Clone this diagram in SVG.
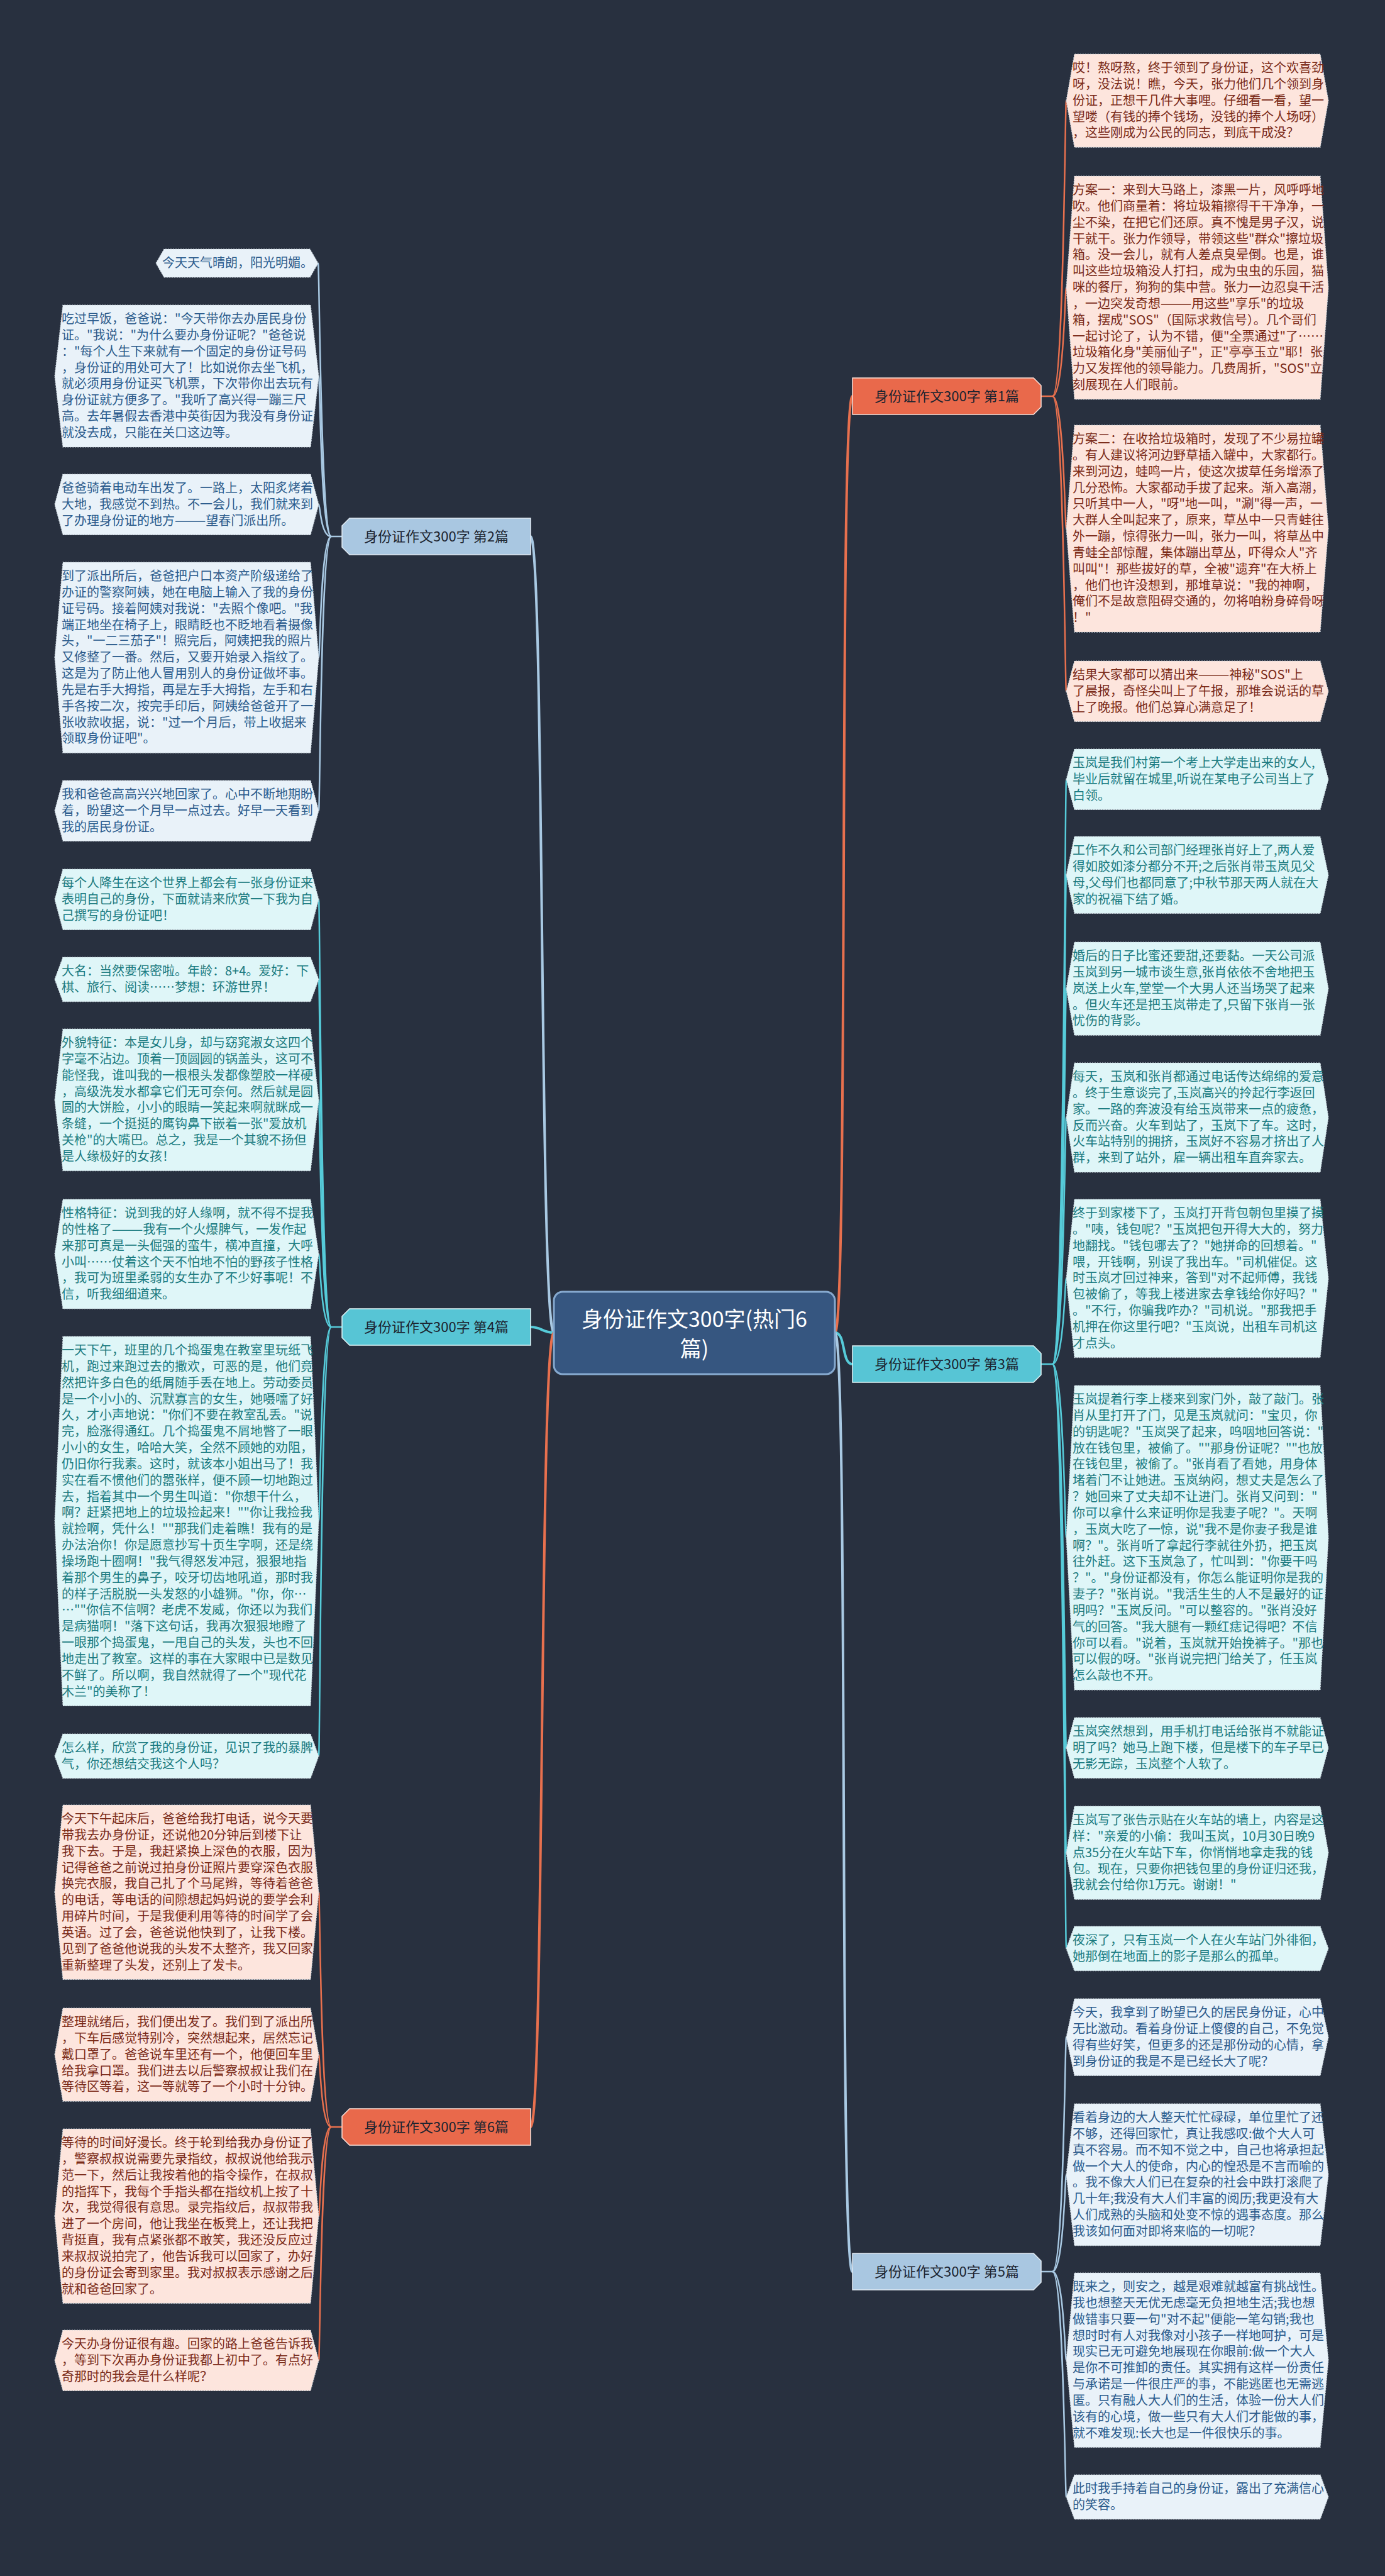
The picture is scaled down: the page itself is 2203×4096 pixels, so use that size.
<svg xmlns="http://www.w3.org/2000/svg" width="2203" height="4096" viewBox="0 0 2203 4096">
<style>
text{font-family:"Noto Sans CJK SC","Microsoft YaHei",sans-serif;}
.lf{font-size:20px;}
.tb{fill:#2b5b8c;}
.tt{fill:#1b7b80;}
.tp{fill:#7a2a18;}
.pb{fill:#e9f2f9;stroke:#c9d3dc;stroke-width:1.2;stroke-dasharray:2 2;}
.pt{fill:#dff6f8;stroke:#c9d3dc;stroke-width:1.2;stroke-dasharray:2 2;}
.pp{fill:#fde5dd;stroke:#c9d3dc;stroke-width:1.2;stroke-dasharray:2 2;}
.br{font-size:22px;fill:#1c2430;text-anchor:middle;}
.cb{fill:none;stroke:#a9c9e3;}
.ct{fill:none;stroke:#56cbd9;}
.cp{fill:none;stroke:#e8704e;}
.m{stroke-width:4;}
.s{stroke-width:2.5;}
</style>
<rect width="2203" height="4096" fill="#28303f"/>
<g id="connectors">
<path class="cb m" d="M881,2119 C858,2119 866,853 844,853"/>
<path class="ct m" d="M881,2119 C862,2119 862,2110 844,2110"/>
<path class="cp m" d="M881,2119 C858,2119 866,3382 844,3382"/>
<path class="cp m" d="M1328,2119 C1350,2119 1334,630 1356,630"/>
<path class="ct m" d="M1328,2119 C1346,2119 1338,2169 1356,2169"/>
<path class="cb m" d="M1328,2119 C1350,2119 1334,3612 1356,3612"/>
<path class="cb s" d="M544,853 H527"/>
<path class="cb s" d="M527,853 C510,853 508,418.5 506,418.5"/>
<path class="cb s" d="M527,853 C510,853 509,598 507,598"/>
<path class="cb s" d="M527,853 C510,853 509,802 507,802"/>
<path class="cb s" d="M527,853 C510,853 509,1045.6 507,1045.6"/>
<path class="cb s" d="M527,853 C510,853 509,1289 507,1289"/>
<path class="ct s" d="M544,2110 H527"/>
<path class="ct s" d="M527,2110 C510,2110 509,1430 507,1430"/>
<path class="ct s" d="M527,2110 C510,2110 509,1557.3 507,1557.3"/>
<path class="ct s" d="M527,2110 C510,2110 509,1748.9 507,1748.9"/>
<path class="ct s" d="M527,2110 C510,2110 509,1994 507,1994"/>
<path class="ct s" d="M527,2110 C510,2110 509,2418.7 507,2418.7"/>
<path class="ct s" d="M527,2110 C510,2110 509,2792.3 507,2792.3"/>
<path class="cp s" d="M544,3382 H527"/>
<path class="cp s" d="M527,3382 C510,3382 509,3008.7 507,3008.7"/>
<path class="cp s" d="M527,3382 C510,3382 509,3267.1 507,3267.1"/>
<path class="cp s" d="M527,3382 C510,3382 509,3523.7 507,3523.7"/>
<path class="cp s" d="M527,3382 C510,3382 509,3753.3 507,3753.3"/>
<path class="cp s" d="M1656,630 H1674"/>
<path class="cp s" d="M1674,630 C1692,630 1694,160.1 1696,160.1"/>
<path class="cp s" d="M1674,630 C1692,630 1694,457.5 1696,457.5"/>
<path class="cp s" d="M1674,630 C1692,630 1694,840.5 1696,840.5"/>
<path class="cp s" d="M1674,630 C1692,630 1694,1099.3 1696,1099.3"/>
<path class="ct s" d="M1656,2169 H1674"/>
<path class="ct s" d="M1674,2169 C1692,2169 1694,1239.3 1696,1239.3"/>
<path class="ct s" d="M1674,2169 C1692,2169 1694,1391.2 1696,1391.2"/>
<path class="ct s" d="M1674,2169 C1692,2169 1694,1572.1 1696,1572.1"/>
<path class="ct s" d="M1674,2169 C1692,2169 1694,1777 1696,1777"/>
<path class="ct s" d="M1674,2169 C1692,2169 1694,2032.8 1696,2032.8"/>
<path class="ct s" d="M1674,2169 C1692,2169 1694,2445.1 1696,2445.1"/>
<path class="ct s" d="M1674,2169 C1692,2169 1694,2779.3 1696,2779.3"/>
<path class="ct s" d="M1674,2169 C1692,2169 1694,2946.1 1696,2946.1"/>
<path class="ct s" d="M1674,2169 C1692,2169 1694,3098.3 1696,3098.3"/>
<path class="cb s" d="M1656,3612 H1674"/>
<path class="cb s" d="M1674,3612 C1692,3612 1694,3239.2 1696,3239.2"/>
<path class="cb s" d="M1674,3612 C1692,3612 1694,3457.9 1696,3457.9"/>
<path class="cb s" d="M1674,3612 C1692,3612 1694,3752.7 1696,3752.7"/>
<path class="cb s" d="M1674,3612 C1692,3612 1694,3970.3 1696,3970.3"/>
</g>
<g id="center">
<rect x="881" y="2054" width="447" height="131" rx="14" fill="#365680" stroke="#86a9cf" stroke-width="3"/>
<text x="1104.5" y="2110" font-size="34" fill="#ffffff" text-anchor="middle">身份证作文300字(热门6</text>
<text x="1104.5" y="2157" font-size="34" fill="#ffffff" text-anchor="middle">篇)</text>
</g>
<g id="b2"><polygon points="544,836 556,824 844,824 844,882 556,882 544,870" fill="#a9c7e1" stroke="#dfe9f2" stroke-width="1.5"/><text class="br" x="694" y="861">身份证作文300字 第2篇</text></g>
<g id="b4"><polygon points="544,2093 556,2081 844,2081 844,2139 556,2139 544,2127" fill="#57c5d5" stroke="#dff5f8" stroke-width="1.5"/><text class="br" x="694" y="2118">身份证作文300字 第4篇</text></g>
<g id="b6"><polygon points="544,3365 556,3353 844,3353 844,3411 556,3411 544,3399" fill="#e9694b" stroke="#fbe0d8" stroke-width="1.5"/><text class="br" x="694" y="3390">身份证作文300字 第6篇</text></g>
<g id="b1"><polygon points="1356,601 1644,601 1656,613 1656,647 1644,659 1356,659" fill="#e9694b" stroke="#fbe0d8" stroke-width="1.5"/><text class="br" x="1506" y="638">身份证作文300字 第1篇</text></g>
<g id="b3"><polygon points="1356,2140 1644,2140 1656,2152 1656,2186 1644,2198 1356,2198" fill="#57c5d5" stroke="#dff5f8" stroke-width="1.5"/><text class="br" x="1506" y="2177">身份证作文300字 第3篇</text></g>
<g id="b5"><polygon points="1356,3583 1644,3583 1656,3595 1656,3629 1644,3641 1356,3641" fill="#a9c7e1" stroke="#dfe9f2" stroke-width="1.5"/><text class="br" x="1506" y="3620">身份证作文300字 第5篇</text></g>

<g id="l2a"><polygon class="pb" points="248,418.5 261,396 493,396 506,418.5 493,441 261,441"/>
<text class="lf tb" x="258" y="425">今天天气晴朗，阳光明媚。</text></g>
<g id="l2b"><polygon class="pb" points="87,598 100,485 494,485 507,598 494,711 100,711"/>
<text class="lf tb" y="514"><tspan x="98">吃过早饭，爸爸说："今天带你去办居民身份</tspan><tspan x="98" dy="25.84">证。"我说："为什么要办身份证呢？"爸爸说</tspan><tspan x="98" dy="25.84">："每个人生下来就有一个固定的身份证号码</tspan><tspan x="98" dy="25.84">，身份证的用处可大了！比如说你去坐飞机，</tspan><tspan x="98" dy="25.84">就必须用身份证买飞机票，下次带你出去玩有</tspan><tspan x="98" dy="25.84">身份证就方便多了。"我听了高兴得一蹦三尺</tspan><tspan x="98" dy="25.84">高。去年暑假去香港中英街因为我没有身份证</tspan><tspan x="98" dy="25.84">就没去成，只能在关口这边等。</tspan></text></g>
<g id="l2c"><polygon class="pb" points="87,802 100,754 494,754 507,802 494,850.5 100,850.5"/>
<text class="lf tb" y="783"><tspan x="98">爸爸骑着电动车出发了。一路上，太阳炙烤着</tspan><tspan x="98" dy="25.84">大地，我感觉不到热。不一会儿，我们就来到</tspan><tspan x="98" dy="25.84">了办理身份证的地方———望春门派出所。</tspan></text></g>
<g id="l2d"><polygon class="pb" points="87,1045.6 100,894 494,894 507,1045.6 494,1197.2 100,1197.2"/>
<text class="lf tb" y="923"><tspan x="98">到了派出所后，爸爸把户口本资产阶级递给了</tspan><tspan x="98" dy="25.84">办证的警察阿姨，她在电脑上输入了我的身份</tspan><tspan x="98" dy="25.84">证号码。接着阿姨对我说："去照个像吧。"我</tspan><tspan x="98" dy="25.84">端正地坐在椅子上，眼睛眨也不眨地看着摄像</tspan><tspan x="98" dy="25.84">头，"一二三茄子"！照完后，阿姨把我的照片</tspan><tspan x="98" dy="25.84">又修整了一番。然后，又要开始录入指纹了。</tspan><tspan x="98" dy="25.84">这是为了防止他人冒用别人的身份证做坏事。</tspan><tspan x="98" dy="25.84">先是右手大拇指，再是左手大拇指，左手和右</tspan><tspan x="98" dy="25.84">手各按二次，按完手印后，阿姨给爸爸开了一</tspan><tspan x="98" dy="25.84">张收款收据，说："过一个月后，带上收据来</tspan><tspan x="98" dy="25.84">领取身份证吧"。</tspan></text></g>
<g id="l2e"><polygon class="pb" points="87,1289 100,1241 494,1241 507,1289 494,1337.5 100,1337.5"/>
<text class="lf tb" y="1270"><tspan x="98">我和爸爸高高兴兴地回家了。心中不断地期盼</tspan><tspan x="98" dy="25.84">着，盼望这一个月早一点过去。好早一天看到</tspan><tspan x="98" dy="25.84">我的居民身份证。</tspan></text></g>

<g id="l4a"><polygon class="pt" points="87,1430 100,1382 494,1382 507,1430 494,1478.5 100,1478.5"/>
<text class="lf tt" y="1411"><tspan x="98">每个人降生在这个世界上都会有一张身份证来</tspan><tspan x="98" dy="25.84">表明自己的身份，下面就请来欣赏一下我为自</tspan><tspan x="98" dy="25.84">己撰写的身份证吧！</tspan></text></g>
<g id="l4b"><polygon class="pt" points="87,1557.3 100,1522 494,1522 507,1557.3 494,1592.7 100,1592.7"/>
<text class="lf tt" y="1551"><tspan x="98">大名：当然要保密啦。年龄：8+4。爱好：下</tspan><tspan x="98" dy="25.84">棋、旅行、阅读……梦想：环游世界！</tspan></text></g>
<g id="l4c"><polygon class="pt" points="87,1748.9 100,1636 494,1636 507,1748.9 494,1861.7 100,1861.7"/>
<text class="lf tt" y="1665"><tspan x="98">外貌特征：本是女儿身，却与窈窕淑女这四个</tspan><tspan x="98" dy="25.84">字毫不沾边。顶着一顶圆圆的锅盖头，这可不</tspan><tspan x="98" dy="25.84">能怪我，谁叫我的一根根头发都像塑胶一样硬</tspan><tspan x="98" dy="25.84">，高级洗发水都拿它们无可奈何。然后就是圆</tspan><tspan x="98" dy="25.84">圆的大饼脸，小小的眼睛一笑起来啊就眯成一</tspan><tspan x="98" dy="25.84">条缝，一个挺挺的鹰钩鼻下嵌着一张"爱放机</tspan><tspan x="98" dy="25.84">关枪"的大嘴巴。总之，我是一个其貌不扬但</tspan><tspan x="98" dy="25.84">是人缘极好的女孩！</tspan></text></g>
<g id="l4d"><polygon class="pt" points="87,1994 100,1907 494,1907 507,1994 494,2081 100,2081"/>
<text class="lf tt" y="1936"><tspan x="98">性格特征：说到我的好人缘啊，就不得不提我</tspan><tspan x="98" dy="25.84">的性格了———我有一个火爆脾气，一发作起</tspan><tspan x="98" dy="25.84">来那可真是一头倔强的蛮牛，横冲直撞，大呼</tspan><tspan x="98" dy="25.84">小叫……仗着这个天不怕地不怕的野孩子性格</tspan><tspan x="98" dy="25.84">，我可为班里柔弱的女生办了不少好事呢！不</tspan><tspan x="98" dy="25.84">信，听我细细道来。</tspan></text></g>
<g id="l4e"><polygon class="pt" points="87,2418.7 100,2125 494,2125 507,2418.7 494,2712.5 100,2712.5"/>
<text class="lf tt" y="2154"><tspan x="98">一天下午，班里的几个捣蛋鬼在教室里玩纸飞</tspan><tspan x="98" dy="25.84">机，跑过来跑过去的撒欢，可恶的是，他们竟</tspan><tspan x="98" dy="25.84">然把许多白色的纸屑随手丢在地上。劳动委员</tspan><tspan x="98" dy="25.84">是一个小小的、沉默寡言的女生，她嗫嚅了好</tspan><tspan x="98" dy="25.84">久，才小声地说："你们不要在教室乱丢。"说</tspan><tspan x="98" dy="25.84">完，脸涨得通红。几个捣蛋鬼不屑地瞥了一眼</tspan><tspan x="98" dy="25.84">小小的女生，哈哈大笑，全然不顾她的劝阻，</tspan><tspan x="98" dy="25.84">仍旧你行我素。这时，就该本小姐出马了！我</tspan><tspan x="98" dy="25.84">实在看不惯他们的嚣张样，便不顾一切地跑过</tspan><tspan x="98" dy="25.84">去，指着其中一个男生叫道："你想干什么，</tspan><tspan x="98" dy="25.84">啊？赶紧把地上的垃圾捡起来！""你让我捡我</tspan><tspan x="98" dy="25.84">就捡啊，凭什么！""那我们走着瞧！我有的是</tspan><tspan x="98" dy="25.84">办法治你！你是愿意抄写十页生字啊，还是绕</tspan><tspan x="98" dy="25.84">操场跑十圈啊！"我气得怒发冲冠，狠狠地指</tspan><tspan x="98" dy="25.84">着那个男生的鼻子，咬牙切齿地吼道，那时我</tspan><tspan x="98" dy="25.84">的样子活脱脱一头发怒的小雄狮。"你，你…</tspan><tspan x="98" dy="25.84">…""你信不信啊？老虎不发威，你还以为我们</tspan><tspan x="98" dy="25.84">是病猫啊！"落下这句话，我再次狠狠地瞪了</tspan><tspan x="98" dy="25.84">一眼那个捣蛋鬼，一甩自己的头发，头也不回</tspan><tspan x="98" dy="25.84">地走出了教室。这样的事在大家眼中已是数见</tspan><tspan x="98" dy="25.84">不鲜了。所以啊，我自然就得了一个"现代花</tspan><tspan x="98" dy="25.84">木兰"的美称了！</tspan></text></g>
<g id="l4f"><polygon class="pt" points="87,2792.3 100,2757 494,2757 507,2792.3 494,2827.7 100,2827.7"/>
<text class="lf tt" y="2786"><tspan x="98">怎么样，欣赏了我的身份证，见识了我的暴脾</tspan><tspan x="98" dy="25.84">气，你还想结交我这个人吗？</tspan></text></g>

<g id="l6a"><polygon class="pp" points="87,3008.7 100,2870 494,2870 507,3008.7 494,3147.4 100,3147.4"/>
<text class="lf tp" y="2899"><tspan x="98">今天下午起床后，爸爸给我打电话，说今天要</tspan><tspan x="98" dy="25.84">带我去办身份证，还说他20分钟后到楼下让</tspan><tspan x="98" dy="25.84">我下去。于是，我赶紧换上深色的衣服，因为</tspan><tspan x="98" dy="25.84">记得爸爸之前说过拍身份证照片要穿深色衣服</tspan><tspan x="98" dy="25.84">换完衣服，我自己扎了个马尾辫，等待着爸爸</tspan><tspan x="98" dy="25.84">的电话，等电话的间隙想起妈妈说的要学会利</tspan><tspan x="98" dy="25.84">用碎片时间，于是我便利用等待的时间学了会</tspan><tspan x="98" dy="25.84">英语。过了会，爸爸说他快到了，让我下楼。</tspan><tspan x="98" dy="25.84">见到了爸爸他说我的头发不太整齐，我又回家</tspan><tspan x="98" dy="25.84">重新整理了头发，还别上了发卡。</tspan></text></g>
<g id="l6b"><polygon class="pp" points="87,3267.1 100,3193 494,3193 507,3267.1 494,3341.2 100,3341.2"/>
<text class="lf tp" y="3222"><tspan x="98">整理就绪后，我们便出发了。我们到了派出所</tspan><tspan x="98" dy="25.84">，下车后感觉特别冷，突然想起来，居然忘记</tspan><tspan x="98" dy="25.84">戴口罩了。爸爸说车里还有一个，他便回车里</tspan><tspan x="98" dy="25.84">给我拿口罩。我们进去以后警察叔叔让我们在</tspan><tspan x="98" dy="25.84">等待区等着，这一等就等了一个小时十分钟。</tspan></text></g>
<g id="l6c"><polygon class="pp" points="87,3523.7 100,3385 494,3385 507,3523.7 494,3662.4 100,3662.4"/>
<text class="lf tp" y="3414"><tspan x="98">等待的时间好漫长。终于轮到给我办身份证了</tspan><tspan x="98" dy="25.84">，警察叔叔说需要先录指纹，叔叔说他给我示</tspan><tspan x="98" dy="25.84">范一下，然后让我按着他的指令操作，在叔叔</tspan><tspan x="98" dy="25.84">的指挥下，我每个手指头都在指纹机上按了十</tspan><tspan x="98" dy="25.84">次，我觉得很有意思。录完指纹后，叔叔带我</tspan><tspan x="98" dy="25.84">进了一个房间，他让我坐在板凳上，还让我把</tspan><tspan x="98" dy="25.84">背挺直，我有点紧张都不敢笑，我还没反应过</tspan><tspan x="98" dy="25.84">来叔叔说拍完了，他告诉我可以回家了，办好</tspan><tspan x="98" dy="25.84">的身份证会寄到家里。我对叔叔表示感谢之后</tspan><tspan x="98" dy="25.84">就和爸爸回家了。</tspan></text></g>
<g id="l6d"><polygon class="pp" points="87,3753.3 100,3705 494,3705 507,3753.3 494,3801.5 100,3801.5"/>
<text class="lf tp" y="3734"><tspan x="98">今天办身份证很有趣。回家的路上爸爸告诉我</tspan><tspan x="98" dy="25.84">，等到下次再办身份证我都上初中了。有点好</tspan><tspan x="98" dy="25.84">奇那时的我会是什么样呢？</tspan></text></g>

<g id="r1a"><polygon class="pp" points="1696,160.1 1709,86 2100,86 2113,160.1 2100,234.2 1709,234.2"/>
<text class="lf tp" y="115"><tspan x="1706">哎！熬呀熬，终于领到了身份证，这个欢喜劲</tspan><tspan x="1706" dy="25.84">呀，没法说！瞧，今天，张力他们几个领到身</tspan><tspan x="1706" dy="25.84">份证，正想干几件大事哩。仔细看一看，望一</tspan><tspan x="1706" dy="25.84">望喽（有钱的捧个钱场，没钱的捧个人场呀）</tspan><tspan x="1706" dy="25.84">，这些刚成为公民的同志，到底干成没？</tspan></text></g>
<g id="r1b"><polygon class="pp" points="1696,457.5 1709,280 2100,280 2113,457.5 2100,634.9 1709,634.9"/>
<text class="lf tp" y="309"><tspan x="1706">方案一：来到大马路上，漆黑一片，风呼呼地</tspan><tspan x="1706" dy="25.84">吹。他们商量着：将垃圾箱擦得干干净净，一</tspan><tspan x="1706" dy="25.84">尘不染，在把它们还原。真不愧是男子汉，说</tspan><tspan x="1706" dy="25.84">干就干。张力作领导，带领这些"群众"擦垃圾</tspan><tspan x="1706" dy="25.84">箱。没一会儿，就有人差点臭晕倒。也是，谁</tspan><tspan x="1706" dy="25.84">叫这些垃圾箱没人打扫，成为虫虫的乐园，猫</tspan><tspan x="1706" dy="25.84">咪的餐厅，狗狗的集中营。张力一边忍臭干活</tspan><tspan x="1706" dy="25.84">，一边突发奇想———用这些"享乐"的垃圾</tspan><tspan x="1706" dy="25.84">箱，摆成"SOS"（国际求救信号）。几个哥们</tspan><tspan x="1706" dy="25.84">一起讨论了，认为不错，便"全票通过"了……</tspan><tspan x="1706" dy="25.84">垃圾箱化身"美丽仙子"，正"亭亭玉立"耶！张</tspan><tspan x="1706" dy="25.84">力又发挥他的领导能力。几费周折，"SOS"立</tspan><tspan x="1706" dy="25.84">刻展现在人们眼前。</tspan></text></g>
<g id="r1c"><polygon class="pp" points="1696,840.5 1709,676 2100,676 2113,840.5 2100,1005.1 1709,1005.1"/>
<text class="lf tp" y="705"><tspan x="1706">方案二：在收拾垃圾箱时，发现了不少易拉罐</tspan><tspan x="1706" dy="25.84">。有人建议将河边野草插入罐中，大家都行。</tspan><tspan x="1706" dy="25.84">来到河边，蛙鸣一片，使这次拔草任务增添了</tspan><tspan x="1706" dy="25.84">几分恐怖。大家都动手拔了起来。渐入高潮，</tspan><tspan x="1706" dy="25.84">只听其中一人，"呀"地一叫，"涮"得一声，一</tspan><tspan x="1706" dy="25.84">大群人全叫起来了，原来，草丛中一只青蛙往</tspan><tspan x="1706" dy="25.84">外一蹦，惊得张力一叫，张力一叫，将草丛中</tspan><tspan x="1706" dy="25.84">青蛙全部惊醒，集体蹦出草丛，吓得众人"齐</tspan><tspan x="1706" dy="25.84">叫叫"！那些拔好的草，全被"遗弃"在大桥上</tspan><tspan x="1706" dy="25.84">，他们也许没想到，那堆草说："我的神啊，</tspan><tspan x="1706" dy="25.84">俺们不是故意阻碍交通的，勿将咱粉身碎骨呀</tspan><tspan x="1706" dy="25.84">！"</tspan></text></g>
<g id="r1d"><polygon class="pp" points="1696,1099.3 1709,1051 2100,1051 2113,1099.3 2100,1147.5 1709,1147.5"/>
<text class="lf tp" y="1080"><tspan x="1706">结果大家都可以猜出来———神秘"SOS"上</tspan><tspan x="1706" dy="25.84">了晨报，奇怪尖叫上了午报，那堆会说话的草</tspan><tspan x="1706" dy="25.84">上了晚报。他们总算心满意足了！</tspan></text></g>

<g id="r3a"><polygon class="pt" points="1696,1239.3 1709,1191 2100,1191 2113,1239.3 2100,1287.5 1709,1287.5"/>
<text class="lf tt" y="1220"><tspan x="1706">玉岚是我们村第一个考上大学走出来的女人,</tspan><tspan x="1706" dy="25.84">毕业后就留在城里,听说在某电子公司当上了</tspan><tspan x="1706" dy="25.84">白领。</tspan></text></g>
<g id="r3b"><polygon class="pt" points="1696,1391.2 1709,1330 2100,1330 2113,1391.2 2100,1452.4 1709,1452.4"/>
<text class="lf tt" y="1359"><tspan x="1706">工作不久和公司部门经理张肖好上了,两人爱</tspan><tspan x="1706" dy="25.84">得如胶如漆分都分不开;之后张肖带玉岚见父</tspan><tspan x="1706" dy="25.84">母,父母们也都同意了;中秋节那天两人就在大</tspan><tspan x="1706" dy="25.84">家的祝福下结了婚。</tspan></text></g>
<g id="r3c"><polygon class="pt" points="1696,1572.1 1709,1498 2100,1498 2113,1572.1 2100,1646.2 1709,1646.2"/>
<text class="lf tt" y="1527"><tspan x="1706">婚后的日子比蜜还要甜,还要黏。一天公司派</tspan><tspan x="1706" dy="25.84">玉岚到另一城市谈生意,张肖依依不舍地把玉</tspan><tspan x="1706" dy="25.84">岚送上火车,堂堂一个大男人还当场哭了起来</tspan><tspan x="1706" dy="25.84">。但火车还是把玉岚带走了,只留下张肖一张</tspan><tspan x="1706" dy="25.84">忧伤的背影。</tspan></text></g>
<g id="r3d"><polygon class="pt" points="1696,1777 1709,1690 2100,1690 2113,1777 2100,1864 1709,1864"/>
<text class="lf tt" y="1719"><tspan x="1706">每天，玉岚和张肖都通过电话传达绵绵的爱意</tspan><tspan x="1706" dy="25.84">。终于生意谈完了,玉岚高兴的拎起行李返回</tspan><tspan x="1706" dy="25.84">家。一路的奔波没有给玉岚带来一点的疲惫，</tspan><tspan x="1706" dy="25.84">反而兴奋。火车到站了，玉岚下了车。这时，</tspan><tspan x="1706" dy="25.84">火车站特别的拥挤，玉岚好不容易才挤出了人</tspan><tspan x="1706" dy="25.84">群，来到了站外，雇一辆出租车直奔家去。</tspan></text></g>
<g id="r3e"><polygon class="pt" points="1696,2032.8 1709,1907 2100,1907 2113,2032.8 2100,2158.6 1709,2158.6"/>
<text class="lf tt" y="1936"><tspan x="1706">终于到家楼下了，玉岚打开背包朝包里摸了摸</tspan><tspan x="1706" dy="25.84">。"咦，钱包呢？"玉岚把包开得大大的，努力</tspan><tspan x="1706" dy="25.84">地翻找。"钱包哪去了？"她拼命的回想着。"</tspan><tspan x="1706" dy="25.84">喂，开钱啊，别误了我出车。"司机催促。这</tspan><tspan x="1706" dy="25.84">时玉岚才回过神来，答到"对不起师傅，我钱</tspan><tspan x="1706" dy="25.84">包被偷了，等我上楼进家去拿钱给你好吗？"</tspan><tspan x="1706" dy="25.84">。"不行，你骗我咋办？"司机说。"那我把手</tspan><tspan x="1706" dy="25.84">机押在你这里行吧？"玉岚说，出租车司机这</tspan><tspan x="1706" dy="25.84">才点头。</tspan></text></g>
<g id="r3f"><polygon class="pt" points="1696,2445.1 1709,2203 2100,2203 2113,2445.1 2100,2687.1 1709,2687.1"/>
<text class="lf tt" y="2232"><tspan x="1706">玉岚提着行李上楼来到家门外，敲了敲门。张</tspan><tspan x="1706" dy="25.84">肖从里打开了门，见是玉岚就问："宝贝，你</tspan><tspan x="1706" dy="25.84">的钥匙呢？"玉岚哭了起来，呜咽地回答说："</tspan><tspan x="1706" dy="25.84">放在钱包里，被偷了。""那身份证呢？""也放</tspan><tspan x="1706" dy="25.84">在钱包里，被偷了。"张肖看了看她，用身体</tspan><tspan x="1706" dy="25.84">堵着门不让她进。玉岚纳闷，想丈夫是怎么了</tspan><tspan x="1706" dy="25.84">？她回来了丈夫却不让进门。张肖又问到："</tspan><tspan x="1706" dy="25.84">你可以拿什么来证明你是我妻子呢？"。天啊</tspan><tspan x="1706" dy="25.84">，玉岚大吃了一惊，说"我不是你妻子我是谁</tspan><tspan x="1706" dy="25.84">啊？"。张肖听了拿起行李就往外扔，把玉岚</tspan><tspan x="1706" dy="25.84">往外赶。这下玉岚急了，忙叫到："你要干吗</tspan><tspan x="1706" dy="25.84">？"。"身份证都没有，你怎么能证明你是我的</tspan><tspan x="1706" dy="25.84">妻子？"张肖说。"我活生生的人不是最好的证</tspan><tspan x="1706" dy="25.84">明吗？"玉岚反问。"可以整容的。"张肖没好</tspan><tspan x="1706" dy="25.84">气的回答。"我大腿有一颗红痣记得吧？不信</tspan><tspan x="1706" dy="25.84">你可以看。"说着，玉岚就开始挽裤子。"那也</tspan><tspan x="1706" dy="25.84">可以假的呀。"张肖说完把门给关了，任玉岚</tspan><tspan x="1706" dy="25.84">怎么敲也不开。</tspan></text></g>
<g id="r3g"><polygon class="pt" points="1696,2779.3 1709,2731 2100,2731 2113,2779.3 2100,2827.5 1709,2827.5"/>
<text class="lf tt" y="2760"><tspan x="1706">玉岚突然想到，用手机打电话给张肖不就能证</tspan><tspan x="1706" dy="25.84">明了吗？她马上跑下楼，但是楼下的车子早已</tspan><tspan x="1706" dy="25.84">无影无踪，玉岚整个人软了。</tspan></text></g>
<g id="r3h"><polygon class="pt" points="1696,2946.1 1709,2872 2100,2872 2113,2946.1 2100,3020.2 1709,3020.2"/>
<text class="lf tt" y="2901"><tspan x="1706">玉岚写了张告示贴在火车站的墙上，内容是这</tspan><tspan x="1706" dy="25.84">样："亲爱的小偷：我叫玉岚，10月30日晚9</tspan><tspan x="1706" dy="25.84">点35分在火车站下车，你悄悄地拿走我的钱</tspan><tspan x="1706" dy="25.84">包。现在，只要你把钱包里的身份证归还我，</tspan><tspan x="1706" dy="25.84">我就会付给你1万元。谢谢！"</tspan></text></g>
<g id="r3i"><polygon class="pt" points="1696,3098.3 1709,3063 2100,3063 2113,3098.3 2100,3133.7 1709,3133.7"/>
<text class="lf tt" y="3092"><tspan x="1706">夜深了，只有玉岚一个人在火车站门外徘徊，</tspan><tspan x="1706" dy="25.84">她那倒在地面上的影子是那么的孤单。</tspan></text></g>

<g id="r5a"><polygon class="pb" points="1696,3239.2 1709,3178 2100,3178 2113,3239.2 2100,3300.4 1709,3300.4"/>
<text class="lf tb" y="3207"><tspan x="1706">今天，我拿到了盼望已久的居民身份证，心中</tspan><tspan x="1706" dy="25.84">无比激动。看着身份证上傻傻的自己，不免觉</tspan><tspan x="1706" dy="25.84">得有些好笑，但更多的还是那份动的心情，拿</tspan><tspan x="1706" dy="25.84">到身份证的我是不是已经长大了呢？</tspan></text></g>
<g id="r5b"><polygon class="pb" points="1696,3457.9 1709,3345 2100,3345 2113,3457.9 2100,3570.7 1709,3570.7"/>
<text class="lf tb" y="3374"><tspan x="1706">看着身边的大人整天忙忙碌碌，单位里忙了还</tspan><tspan x="1706" dy="25.84">不够，还得回家忙，真让我感叹:做个大人可</tspan><tspan x="1706" dy="25.84">真不容易。而不知不觉之中，自己也将承担起</tspan><tspan x="1706" dy="25.84">做一个大人的使命，内心的惶恐是不言而喻的</tspan><tspan x="1706" dy="25.84">。我不像大人们已在复杂的社会中跌打滚爬了</tspan><tspan x="1706" dy="25.84">几十年;我没有大人们丰富的阅历;我更没有大</tspan><tspan x="1706" dy="25.84">人们成熟的头脑和处变不惊的遇事态度。那么</tspan><tspan x="1706" dy="25.84">我该如何面对即将来临的一切呢？</tspan></text></g>
<g id="r5c"><polygon class="pb" points="1696,3752.7 1709,3614 2100,3614 2113,3752.7 2100,3891.4 1709,3891.4"/>
<text class="lf tb" y="3643"><tspan x="1706">既来之，则安之，越是艰难就越富有挑战性。</tspan><tspan x="1706" dy="25.84">我也想整天无优无虑毫无负担地生活;我也想</tspan><tspan x="1706" dy="25.84">做错事只要一句"对不起"便能一笔勾销;我也</tspan><tspan x="1706" dy="25.84">想时时有人对我像对小孩子一样地呵护，可是</tspan><tspan x="1706" dy="25.84">现实已无可避免地展现在你眼前:做一个大人</tspan><tspan x="1706" dy="25.84">是你不可推卸的责任。其实拥有这样一份责任</tspan><tspan x="1706" dy="25.84">与承诺是一件很庄严的事，不能逃匿也无需逃</tspan><tspan x="1706" dy="25.84">匿。只有融人大人们的生活，体验一份大人们</tspan><tspan x="1706" dy="25.84">该有的心境，做一些只有大人们才能做的事，</tspan><tspan x="1706" dy="25.84">就不难发现:长大也是一件很快乐的事。</tspan></text></g>
<g id="r5d"><polygon class="pb" points="1696,3970.3 1709,3935 2100,3935 2113,3970.3 2100,4005.7 1709,4005.7"/>
<text class="lf tb" y="3964"><tspan x="1706">此时我手持着自己的身份证，露出了充满信心</tspan><tspan x="1706" dy="25.84">的笑容。</tspan></text></g>
</svg>
